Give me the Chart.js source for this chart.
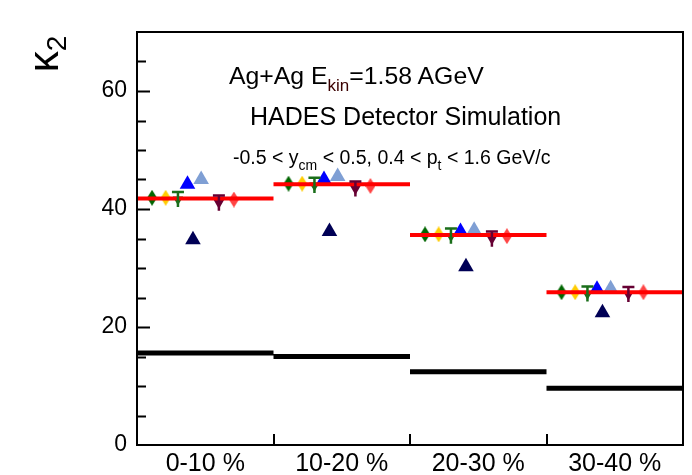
<!DOCTYPE html>
<html>
<head>
<meta charset="utf-8">
<script src="https://cdn.jsdelivr.net/npm/chart.js@4.4.1/dist/chart.umd.min.js"></script>
<style>
  html, body { margin: 0; padding: 0; background: #fff; }
  #wrap { position: relative; width: 692px; height: 475px; overflow: hidden; }
  .txt { position: absolute; font-family: "Liberation Sans", Arial, sans-serif; color: #000; white-space: nowrap; }
</style>
</head>
<body>
<div id="wrap">
  <canvas id="c" width="692" height="475"></canvas>
  <div class="txt" style="left:12px;top:31px;width:64px;height:46px;line-height:46px;text-align:center;font-size:42px;transform:rotate(-90deg);">κ<span style="font-size:28px;position:relative;top:8px;">2</span></div>
  <div class="txt" style="left:229px;top:62px;font-size:24.8px;">Ag+Ag E<span style="font-size:17px;position:relative;top:7px;color:#3a0000;">kin</span>=1.58 AGeV</div>
  <div class="txt" style="left:250px;top:102px;font-size:25px;">HADES Detector Simulation</div>
  <div class="txt" style="left:233px;top:146px;font-size:19.5px;">-0.5 &lt; y<span style="font-size:14px;position:relative;top:6px;">cm</span> &lt; 0.5, 0.4 &lt; p<span style="font-size:14px;position:relative;top:6px;">t</span> &lt; 1.6 GeV/c</div>
</div>
<script>
// centrality classes
const categories = ['0-10 %', '10-20 %', '20-30 %', '30-40 %'];
const yTicks = [0, 20, 40, 60];

// horizontal reference levels per class
const redLevels = [41.8, 44.2, 35.6, 25.9];
const blackLevels = [15.6, 15.0, 12.4, 9.6];

// simulated points per class
const greenDiamond = [41.9, 44.3, 35.7, 25.9];
const yellowDiamond = [41.9, 44.3, 35.7, 25.9];
const greenTriangle = [41.6, 44.0, 35.4, 25.6];
const blueTriangle = [44.2, 45.0, 36.2, 26.4];
const lightBlueTriangle = [45.0, 45.5, 36.4, 26.5];
const navyTriangle = [34.8, 36.2, 30.2, 22.4];
const maroonStar = [41.0, 43.4, 34.9, 25.5];
const pointErr = [0.6, 0.6, 0.6, 0.6];
const redDiamond = [41.6, 43.9, 35.4, 25.9];

// where each series sits inside its class bin
const seriesOffsets = {
  greenDiamond: 0.11, yellowDiamond: 0.21, greenTriangle: 0.30, blueTriangle: 0.37,
  lightBlueTriangle: 0.47, navyTriangle: 0.41, maroonStar: 0.60, redDiamond: 0.71
};

function diamond(color) {
  const cv = document.createElement('canvas');
  cv.width = 10; cv.height = 16;
  const g = cv.getContext('2d');
  g.fillStyle = color;
  g.beginPath();
  g.moveTo(5, 0); g.lineTo(10, 8); g.lineTo(5, 16); g.lineTo(0, 8);
  g.closePath(); g.fill();
  return cv;
}

function pts(vals, off) {
  return vals.map((v, i) => ({ x: i + off, y: v }));
}

function segments(levels) {
  const d = [];
  levels.forEach((v, i) => {
    d.push({ x: i, y: v }, { x: i + 1, y: v });
    if (i < levels.length - 1) d.push({ x: i + 1, y: null });
  });
  return d;
}

function markerSet(vals, key, color, style, radius, rotation) {
  return {
    type: 'scatter', data: pts(vals, seriesOffsets[key]),
    backgroundColor: color, borderColor: color, borderWidth: 0,
    pointStyle: style, pointRadius: radius, pointRotation: rotation || 0
  };
}

const errBars = {
  id: 'errBars',
  afterDatasetsDraw(chart) {
    const ctx = chart.ctx, x = chart.scales.x, y = chart.scales.y;
    ctx.save();
    ctx.lineWidth = 2.5;
    const draw = (vals, key, color, err) => {
      ctx.strokeStyle = color;
      vals.forEach((v, i) => {
        const px = x.getPixelForValue(i + seriesOffsets[key]);
        const y0 = y.getPixelForValue(v - err[i]) + 4, y1 = y.getPixelForValue(v + err[i]) - 4;
        ctx.beginPath();
        ctx.moveTo(px, y0);
        ctx.lineTo(px, y1);
        ctx.moveTo(px - 6, y1);
        ctx.lineTo(px + 6, y1);
        ctx.stroke();
      });
    };
    draw(maroonStar, 'maroonStar', '#660033', pointErr);
    draw(greenTriangle, 'greenTriangle', '#1a6e1a', pointErr);
    ctx.restore();
  }
};

const frame = {
  id: 'frame',
  afterDraw(chart) {
    const ctx = chart.ctx, a = chart.chartArea, y = chart.scales.y, x = chart.scales.x;
    ctx.save();
    ctx.strokeStyle = '#000';
    ctx.lineWidth = 2;
    ctx.strokeRect(a.left, a.top, a.right - a.left, a.bottom - a.top);
    ctx.beginPath();
    for (let v = 5; v < 70; v += 5) {
      const py = Math.round(y.getPixelForValue(v)) + 0.5;
      ctx.moveTo(a.left, py);
      ctx.lineTo(a.left + (v % 20 === 0 ? 13 : 9), py);
    }
    for (let i = 1; i < categories.length; i++) {
      const px = Math.round(x.getPixelForValue(i));
      ctx.moveTo(px, a.bottom);
      ctx.lineTo(px, a.bottom - 11);
    }
    ctx.stroke();
    ctx.restore();
  }
};

new Chart(document.getElementById('c'), {
  data: {
    datasets: [
      { type: 'line', data: segments(blackLevels), borderColor: '#000', borderWidth: 5, pointRadius: 0, spanGaps: false },
      { type: 'line', data: segments(redLevels), borderColor: '#ff0000', borderWidth: 4, pointRadius: 0, spanGaps: false },
      markerSet(greenDiamond, 'greenDiamond', '#006600', diamond('#006600'), 8),
      markerSet(yellowDiamond, 'yellowDiamond', '#ffcc00', diamond('#ffcc00'), 8),
      markerSet(greenTriangle, 'greenTriangle', '#1a6e1a', 'triangle', 6, 180),
      markerSet(navyTriangle, 'navyTriangle', '#000055', 'triangle', 9),
      markerSet(blueTriangle, 'blueTriangle', '#0000ff', 'triangle', 9),
      markerSet(lightBlueTriangle, 'lightBlueTriangle', '#7f9fd4', 'triangle', 9),
      markerSet(maroonStar, 'maroonStar', '#660033', 'triangle', 6, 180),
      markerSet(redDiamond, 'redDiamond', '#ff4444', diamond('#ff4444'), 8)
    ]
  },
  options: {
    responsive: false,
    animation: false,
    layout: { padding: { top: 32, right: 6, left: 0, bottom: 0 } },
    plugins: { legend: { display: false }, tooltip: { enabled: false } },
    scales: {
      x: {
        type: 'linear', min: 0, max: 4,
        afterBuildTicks: s => { s.ticks = categories.map((c, i) => ({ value: i + 0.5 })); },
        afterFit: s => { s.height = 30; },
        ticks: {
          callback: (v, i) => categories[i],
          font: { family: 'Liberation Sans', size: 25 }, color: '#000', padding: -4, maxRotation: 0
        },
        grid: { display: false },
        border: { display: false }
      },
      y: {
        min: 0, max: 70,
        afterBuildTicks: s => { s.ticks = yTicks.map(v => ({ value: v })); },
        afterFit: s => { s.width = 137; },
        ticks: { font: { family: 'Liberation Sans', size: 23 }, color: '#000', padding: 2 },
        grid: { display: false },
        border: { display: false }
      }
    }
  },
  plugins: [errBars, frame]
});
</script>
</body>
</html>
